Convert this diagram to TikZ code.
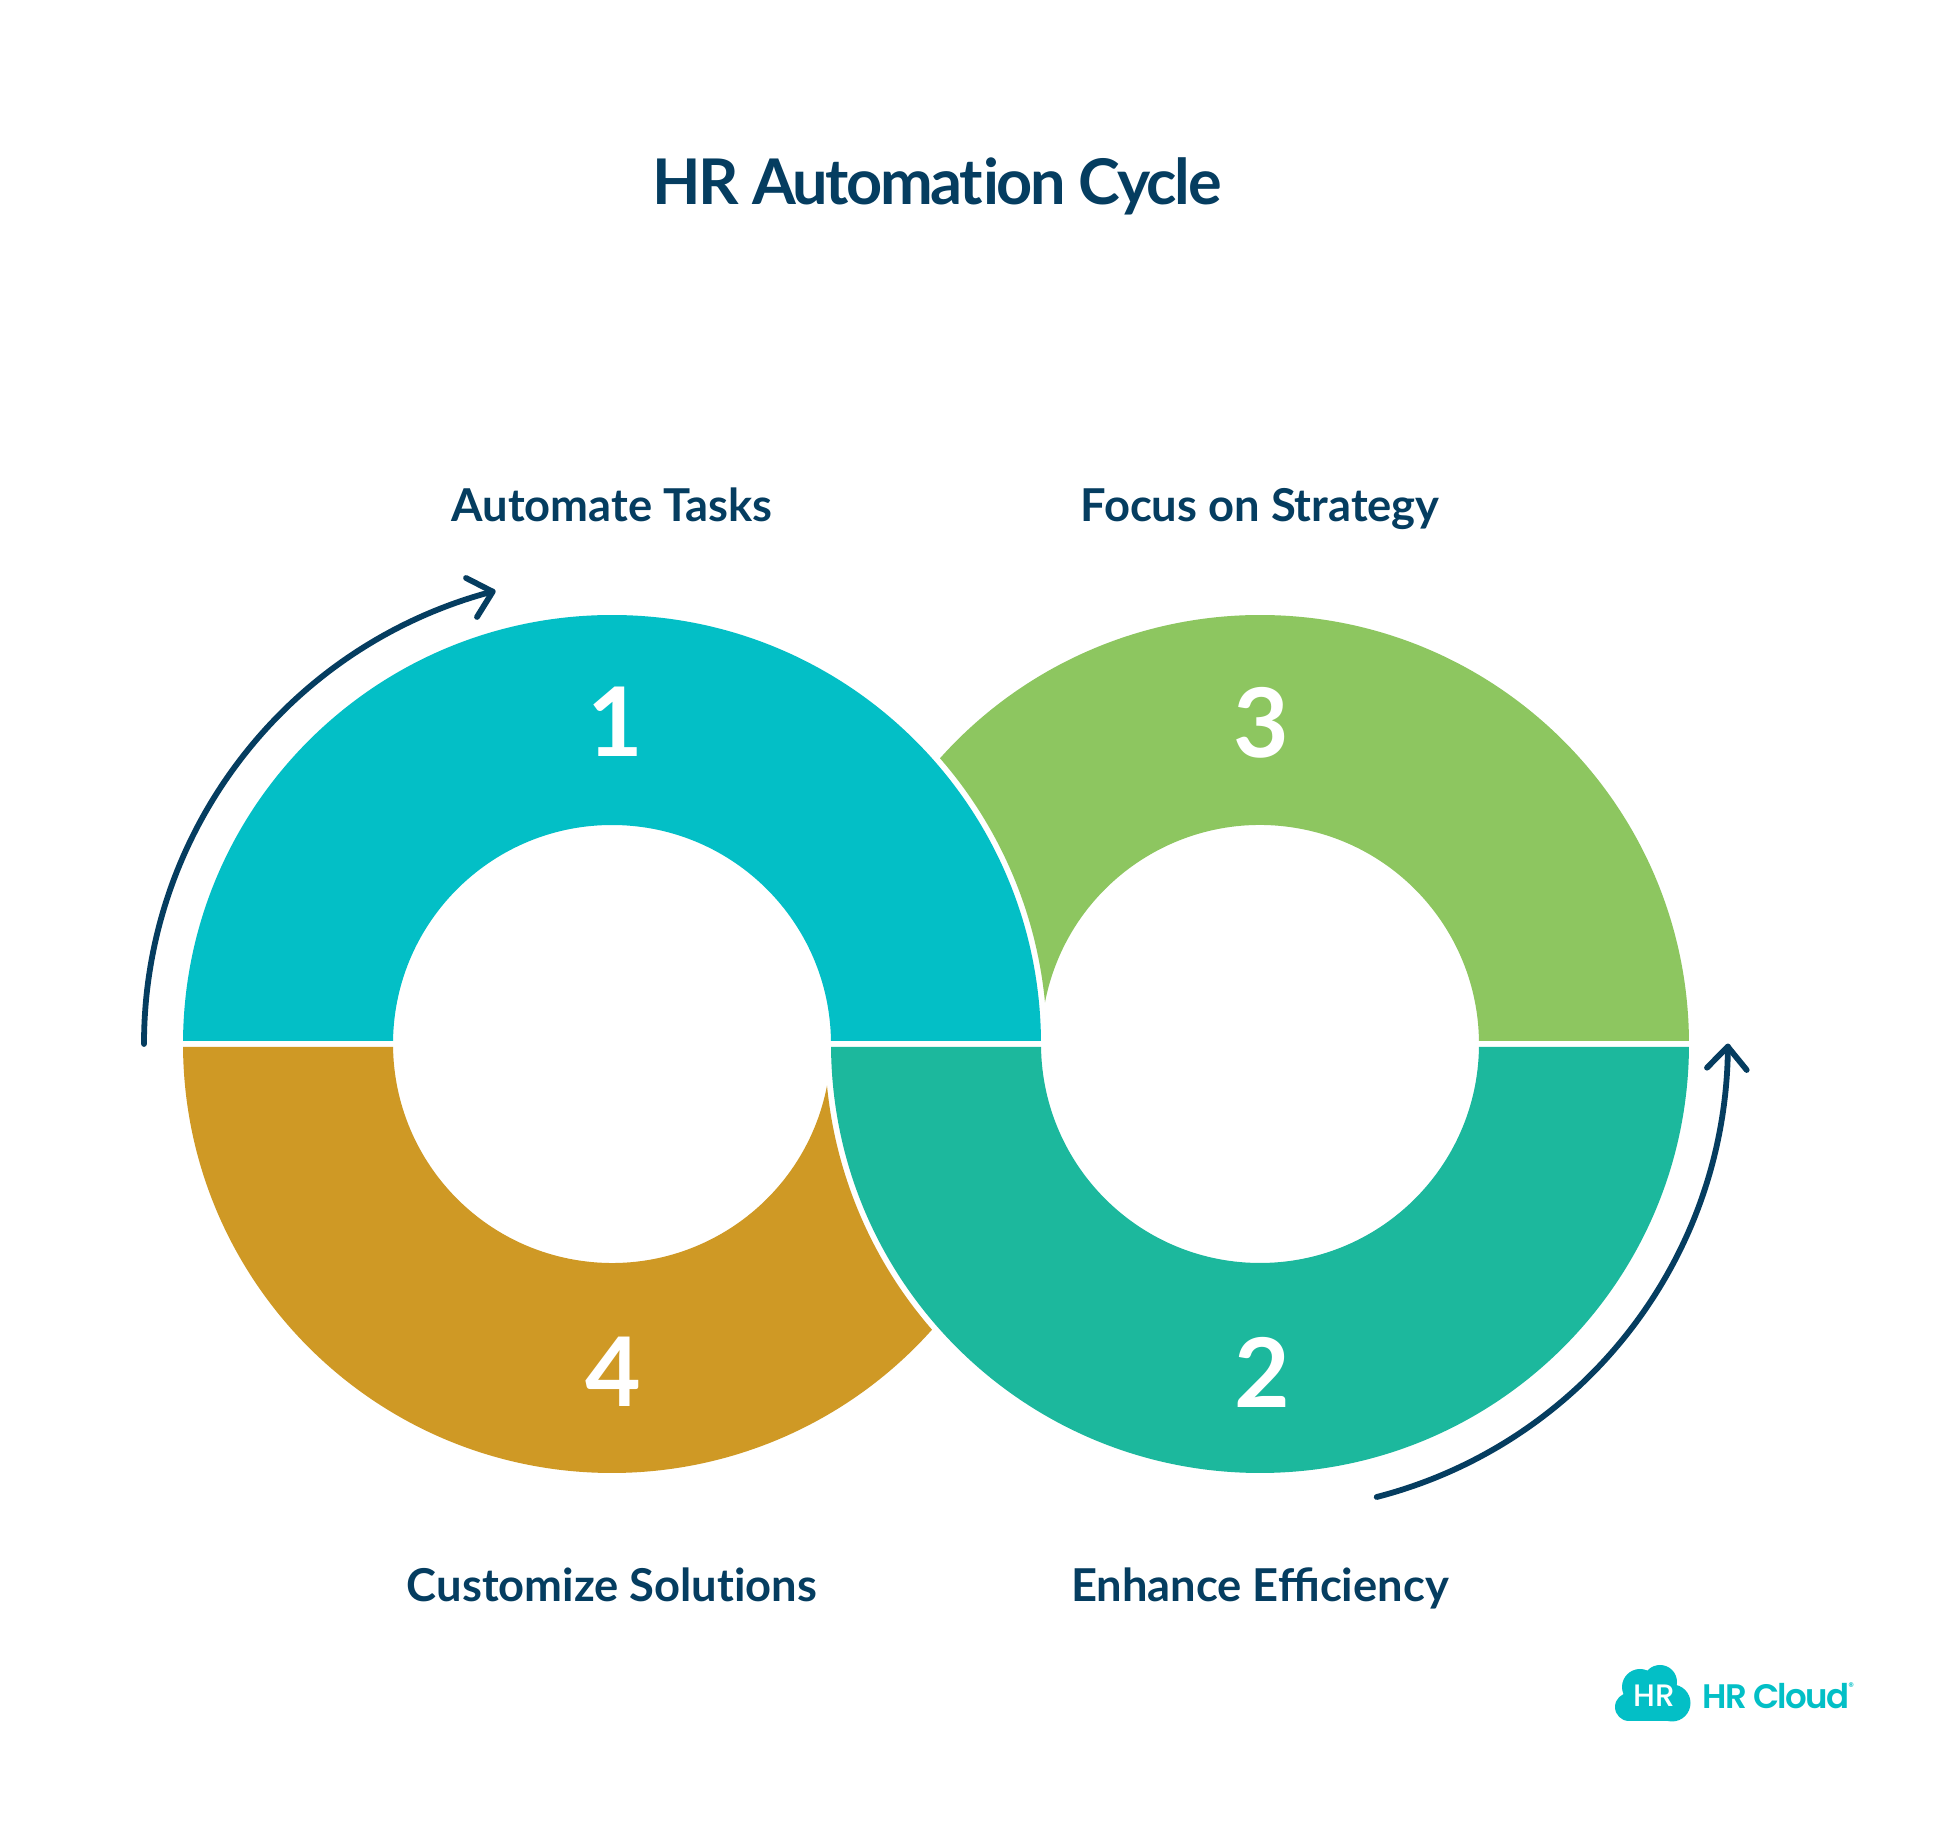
\documentclass[tikz,border=0pt]{standalone}
\usepackage{fontspec}
\setmainfont{Lato}
\newfontfamily\titlefont[LetterSpace=-3.9]{Lato Bold}
\newfontfamily\labelfont{Lato Bold}
\newfontfamily\digitfont{Lato Bold}
\newfontfamily\logofont{Poppins Medium}
\newfontfamily\logonamefont[LetterSpace=-5]{Poppins SemiBold}
\definecolor{cTeal}{HTML}{03BFC6}
\definecolor{cGreen}{HTML}{8DC660}
\definecolor{cSea}{HTML}{1CB89D}
\definecolor{cGold}{HTML}{CF9925}
\definecolor{cNavy}{HTML}{053D60}
\tikzset{
  band/.style={draw=none},
  titletext/.style={anchor=base,inner sep=0pt,text=cNavy,font=\titlefont\fontsize{31.5}{36}\selectfont},
  labeltext/.style={anchor=base,inner sep=0pt,text=cNavy,font=\labelfont\fontsize{22.65}{27}\selectfont},
  digittext/.style={anchor=base,inner sep=0pt,text=white,font=\digitfont\fontsize{48}{54}\selectfont},
  cycleline/.style={draw=cNavy,line width=2.9pt,line cap=round,line join=round},
  logotext/.style={anchor=base west,inner sep=0pt,text=cTeal,font=\logonamefont\fontsize{17}{20}\selectfont},
}
\begin{document}
\begin{tikzpicture}[x=0.5pt,y=0.5pt]
\useasboundingbox (0,0) rectangle (1944,1836);
\fill[white] (0,0) rectangle (1944,1836);
\coordinate (L) at (612,792);
\coordinate (R) at (1260,792);
% bands
\fill[cTeal,band] ([shift={(0.4:429)}]L) arc[start angle=0.4,end angle=179.6,radius=429]
  -- ([shift={(179.215:219)}]L) arc[start angle=179.215,end angle=0.785,radius=219] -- cycle;
\fill[cSea,band] ([shift={(-179.6:429)}]R) arc[start angle=-179.6,end angle=-0.4,radius=429]
  -- ([shift={(-0.785:219)}]R) arc[start angle=-0.785,end angle=-179.215,radius=219] -- cycle;
\fill[cGreen,band] ([shift={(0.4:429)}]R) arc[start angle=0.4,end angle=138.24,radius=429]
  arc[start angle=41.06,end angle=5.50,radius=435]
  arc[start angle=169.03,end angle=0.785,radius=219] -- cycle;
\fill[cGold,band] ([shift={(-179.6:429)}]L) arc[start angle=-179.6,end angle=-41.76,radius=429]
  arc[start angle=221.06,end angle=185.5,radius=435]
  arc[start angle=-10.97,end angle=-179.215,radius=219] -- cycle;
% arrows
\coordinate (A1s) at (144,792);
\coordinate (A1t) at (492.7,1244.3);
\coordinate (A1a) at (466,1258);
\coordinate (A1b) at (477,1219);
\draw[cycleline] (A1s) arc[start angle=180,end angle=104.78,radius=468];
\draw[cycleline] (A1a) -- (A1t) -- (A1b);
\coordinate (A2s) at (1376.7,339);
\coordinate (A2t) at (1727.7,789.3);
\coordinate (A2a) at (1707,768.3);
\coordinate (A2b) at (1746.7,766);
\draw[cycleline] (A2s) arc[start angle=-75.55,end angle=-0.33,radius=468];
\draw[cycleline] (A2a) -- (A2t) -- (A2b);
% text
\node[titletext] (title) at (937,1631) {HR Automat\kern0pt ion Cycle};
\node[labeltext] (l1) at (612,1314) {Automate Tasks};
\node[labeltext] (l3) at (1260,1314) {Focus on Strategy};
\node[labeltext] (l4) at (612,234.5) {Customize Solut\kern0pt ions};
\node[labeltext] (l2) at (1260,234.5) {Enhance Efficiency};
\node[digittext] (d1) at (615,1079) {1};
\node[digittext] (d3) at (1261,1078) {3};
\node[digittext] (d4) at (613,429) {4};
\node[digittext] (d2) at (1262,428) {2};
% logo
\fill[cTeal] (1629,129) circle[radius=14];
\fill[cTeal] (1640,149) circle[radius=18];
\fill[cTeal] (1660,154) circle[radius=17];
\fill[cTeal] (1672,133) circle[radius=18.5];
\fill[cTeal] (1629,115) rectangle (1672,150);
\node[anchor=base,inner sep=0pt,text=white,font=\logofont\fontsize{15.5}{18}\selectfont] (logoHR) at (1654.5,129) {HR};
\node[logotext] (logoName) at (1702,127) {HR Cloud};
\node[anchor=base west,inner sep=0pt,text=cTeal,font=\logofont\fontsize{5.5}{6}\selectfont] (logoReg) at (1848,145) {®};
\end{tikzpicture}
\end{document}
